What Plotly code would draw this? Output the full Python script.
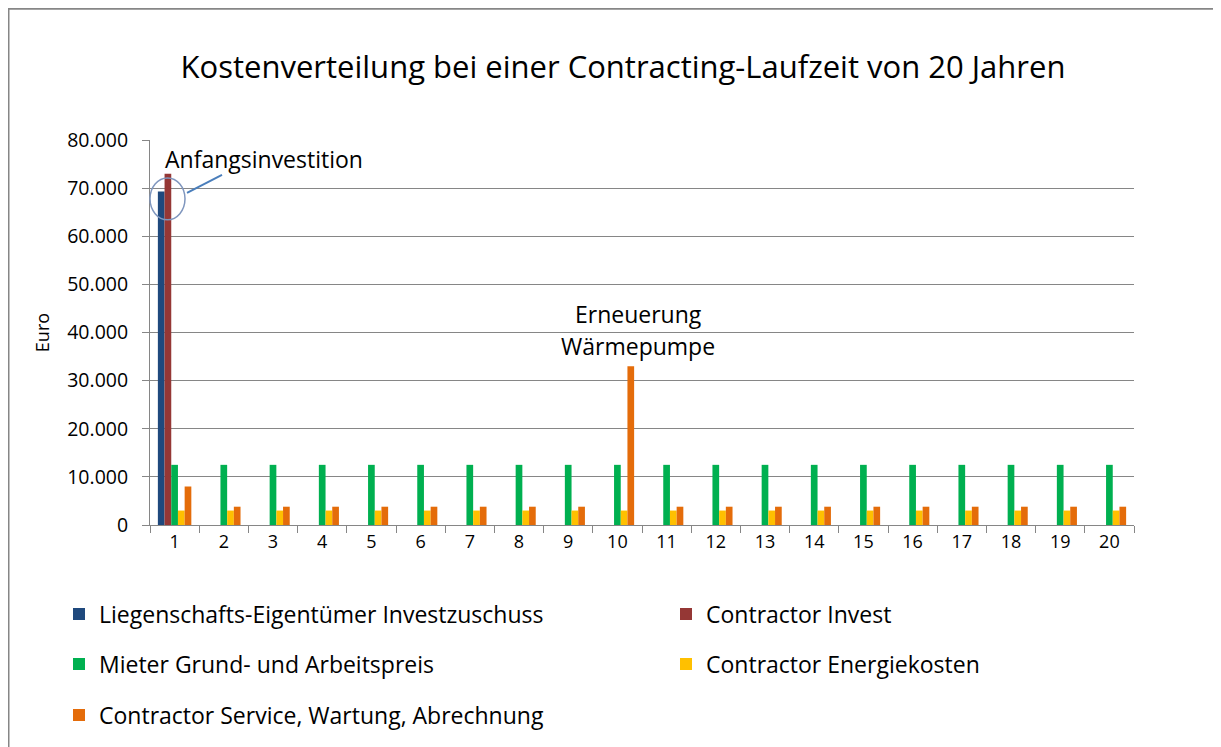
import plotly.graph_objects as go

years = [str(i) for i in range(1, 21)]
eigentuemer = [69300] + [0] * 19
contractor_invest = [73000] + [0] * 19
mieter = [12500] * 20
energiekosten = [3000] * 20
service = [8000, 3800, 3800, 3800, 3800, 3800, 3800, 3800, 3800, 33000,
           3800, 3800, 3800, 3800, 3800, 3800, 3800, 3800, 3800, 3800]

names = ["Liegenschafts-Eigentümer Investzuschuss", "Contractor Invest",
         "Mieter Grund- und Arbeitspreis", "Contractor Energiekosten",
         "Contractor Service, Wartung, Abrechnung"]
colors = ["#1F497D", "#953735", "#00B050", "#FFC000", "#E46C0A"]
series = [eigentuemer, contractor_invest, mieter, energiekosten, service]
legends = ["legend", "legend2", "legend3", "legend4", "legend5"]

FONT = "Open Sans"
fig = go.Figure()
for n, c, s, lg in zip(names, colors, series, legends):
    fig.add_trace(go.Bar(x=years, y=s, name=n, marker_color=c,
                         marker_line_width=0, legend=lg, showlegend=True))

OFF = 8  # page body margin
W, H = 1221 - OFF, 747 - OFF
L, T = 150 - OFF, 140 - OFF
R = W - (1134 - OFF)
B = H - (526 - OFF)
pw, ph = W - L - R, H - T - B

def px_x(s):  # screen x -> paper
    return (s - OFF - L) / pw

def px_y(s):  # screen y -> paper
    return (H - B - (s - OFF)) / ph

leg_font = dict(family=FONT, size=23, color="#000000")
def leg(sx, sy):
    return dict(orientation="v", xanchor="left", yanchor="middle",
                x=px_x(sx), y=px_y(sy), font=leg_font,
                bgcolor="rgba(0,0,0,0)", itemwidth=30)

fig.update_layout(
    width=W, height=H,
    margin=dict(l=L, r=R, t=T, b=B),
    paper_bgcolor="white", plot_bgcolor="white",
    separators=",.",
    showlegend=True,
    barmode="group", bargap=0.32, bargroupgap=0,
    font=dict(family=FONT, color="#000000"),
    title=dict(text="Kostenverteilung bei einer Contracting-Laufzeit von 20 Jahren",
               font=dict(family=FONT, size=31, color="#000000"),
               x=px_x(623), xref="paper", xanchor="center",
               y=1 - (67 - OFF) / H, yref="container", yanchor="middle"),
    legend=leg(59, 614),
    legend2=leg(666, 614),
    legend3=leg(59, 664),
    legend4=leg(666, 664),
    legend5=leg(59, 715),
    xaxis=dict(type="category", showgrid=False, showline=True, linecolor="#868686",
               linewidth=1, ticks="outside", tickson="boundaries", ticklen=7,
               tickcolor="#868686", tickfont=dict(family=FONT, size=18, color="#000000")),
    yaxis=dict(range=[0, 80000], dtick=10000, tickformat=",d", showgrid=True,
               gridcolor="#868686", gridwidth=1, showline=True, linecolor="#868686",
               ticks="outside", ticklen=7, tickcolor="#868686", ticklabelstandoff=10,
               tickfont=dict(family=FONT, size=19.5, color="#000000"),
               title=dict(text="Euro", font=dict(family=FONT, size=18, color="#000000"),
                          standoff=12),
               zeroline=False),
)

# chart border (left and top edges visible in the view)
fig.add_shape(type="rect", xref="paper", yref="paper",
              x0=px_x(OFF), x1=px_x(1400), y0=px_y(900), y1=px_y(OFF),
              line=dict(color="#868686", width=3), fillcolor="rgba(0,0,0,0)",
              layer="below")

# ellipse and connector for Anfangsinvestition
fig.add_shape(type="circle", xref="paper", yref="paper",
              x0=px_x(150), x1=px_x(185), y0=px_y(220), y1=px_y(178),
              line=dict(color="#7F96BE", width=1.5))
fig.add_shape(type="line", xref="paper", yref="paper",
              x0=px_x(187), y0=px_y(193), x1=px_x(222), y1=px_y(175),
              line=dict(color="#4A7EBB", width=2))

ann_font = dict(family=FONT, size=23, color="#000000")
for txt, sx, sy in [("Anfangsinvestition", 263.5, 159),
                    ("Erneuerung", 638, 314),
                    ("Wärmepumpe", 638, 347)]:
    fig.add_annotation(text=txt, xref="paper", yref="paper",
                       x=px_x(sx), y=px_y(sy), showarrow=False, font=ann_font,
                       xanchor="center", yanchor="middle")

fig.write_html("out.html")
